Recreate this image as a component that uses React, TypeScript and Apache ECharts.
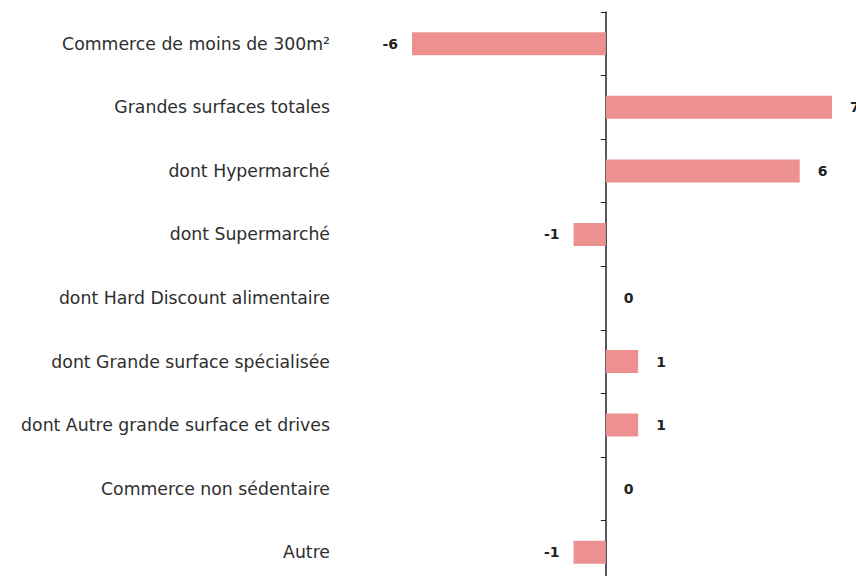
import React, { useEffect, useRef } from "react";
import * as echarts from "echarts";

const categories = [
  "Commerce de moins de 300m²",
  "Grandes surfaces totales",
  "dont Hypermarché",
  "dont Supermarché",
  "dont Hard Discount alimentaire",
  "dont Grande surface spécialisée",
  "dont Autre grande surface et drives",
  "Commerce non sédentaire",
  "Autre",
];
const values = [-6, 7, 6, -1, 0, 1, 1, 0, -1];

export default function App() {
  const ref = useRef<HTMLDivElement>(null);
  useEffect(() => {
    document.body.style.margin = "0";
    const chart = echarts.init(ref.current!, null, { renderer: "svg" });
    chart.setOption({
      animation: false,
      backgroundColor: "#ffffff",
      grid: {
        left: 412,
        top: 12,
        width: 420,
        height: 572,
        containLabel: false,
        outerBoundsMode: "none",
      },
      xAxis: {
        type: "value",
        min: -6,
        max: 7,
        show: false,
      },
      yAxis: {
        type: "category",
        data: categories,
        inverse: true,
        axisLine: { onZero: true, lineStyle: { color: "#1c1f2e", width: 1.5 } },
        axisTick: { show: true, length: 5, lineStyle: { color: "#1c1f2e" } },
        axisLabel: {
          margin: 82,
          color: "#2e2e2e",
          fontFamily: "DejaVu Sans",
          fontSize: 17.3,
        },
        splitLine: { show: false },
      },
      series: [
        {
          type: "bar",
          barWidth: 23,
          itemStyle: { color: "#ec9090" },
          data: values.map((v) => ({
            value: v,
            label: {
              show: true,
              position: v < 0 ? "left" : "right",
              distance: v < 0 ? 14 : 18,
              color: "#222222",
              fontFamily: "DejaVu Sans",
              fontSize: 14,
              fontWeight: "bold",
            },
          })),
        },
      ],
    });
    return () => chart.dispose();
  }, []);
  return <div ref={ref} style={{ width: 856, height: 576 }} />;
}
